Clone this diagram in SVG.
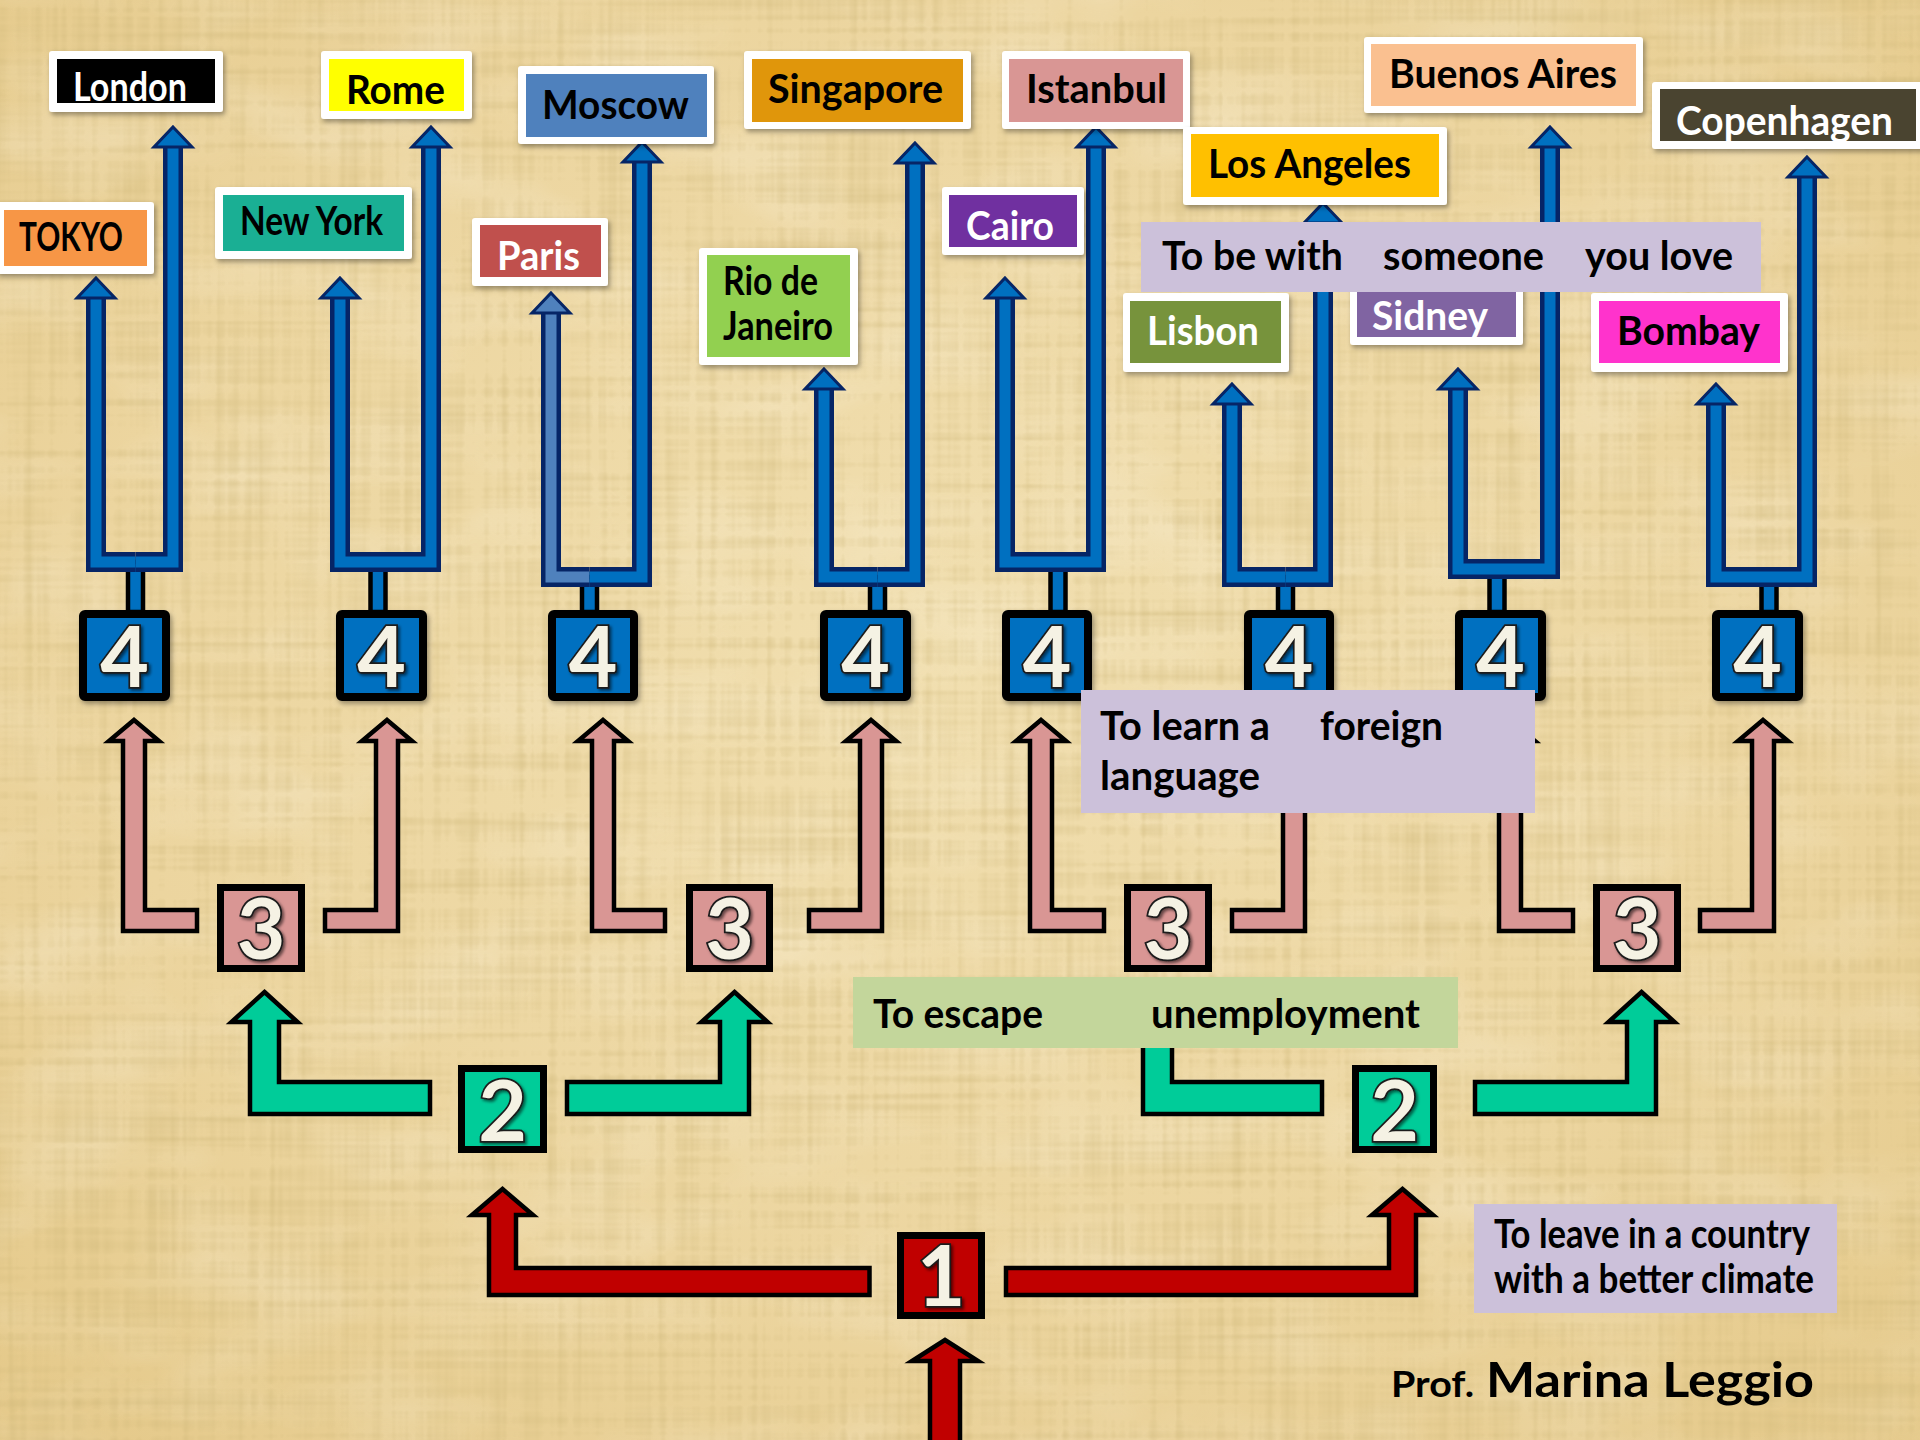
<svg xmlns="http://www.w3.org/2000/svg" width="1920" height="1440" viewBox="0 0 1920 1440">
<defs>
<radialGradient id="bgGrad" cx="0.5" cy="0.45" r="0.75">
<stop offset="0" stop-color="#f1dfb0"/>
<stop offset="0.6" stop-color="#ecd59f"/>
<stop offset="1" stop-color="#e4c888"/>
</radialGradient>
<filter id="weave" x="0" y="0" width="1920" height="1440" filterUnits="userSpaceOnUse">
<feTurbulence type="fractalNoise" baseFrequency="0.003 0.12" numOctaves="2" seed="4" result="v"/>
<feTurbulence type="fractalNoise" baseFrequency="0.12 0.003" numOctaves="2" seed="9" result="h"/>
<feComposite in="v" in2="h" operator="arithmetic" k2="0.5" k3="0.5" result="m"/>
<feColorMatrix in="m" type="matrix" values="0 0 0 0 0.6  0 0 0 0 0.46  0 0 0 0 0.18  -1.3 0 0 0 0.72"/>
</filter>
<filter id="blotch" x="0" y="0" width="1920" height="1440" filterUnits="userSpaceOnUse">
<feTurbulence type="fractalNoise" baseFrequency="0.006 0.012" numOctaves="3" seed="2"/>
<feColorMatrix type="matrix" values="0 0 0 0 1  0 0 0 0 0.97  0 0 0 0 0.88  1.2 0 0 0 -0.5"/>
</filter>
<filter id="sh" x="-20%" y="-20%" width="150%" height="150%">
<feDropShadow dx="2" dy="3" stdDeviation="2.5" flood-color="#000" flood-opacity="0.35"/>
</filter>
<filter id="dsh" x="-20%" y="-20%" width="150%" height="150%">
<feDropShadow dx="2" dy="2" stdDeviation="1.5" flood-color="#000" flood-opacity="0.55"/>
</filter>
</defs>
<style>
.bo{fill:none;stroke:#062566;stroke-width:20;stroke-linejoin:miter}
.bi{fill:none;stroke:#0070c0;stroke-width:11;stroke-linejoin:miter}
.bil{stroke:#4f81bd}
.bh{fill:#0070c0;stroke:#062566;stroke-width:3;stroke-linejoin:miter}
.stem{fill:#0070c0;stroke:#000;stroke-width:4.5}
.pk{fill:#d99694;stroke:#000;stroke-width:4.5;stroke-linejoin:miter}
.gr{fill:#00cc99;stroke:#000;stroke-width:4.5;stroke-linejoin:miter}
.rd{fill:#c00000;stroke:#000;stroke-width:4.5;stroke-linejoin:miter}
.b4{fill:#0070c0;stroke:#000;stroke-width:8}
.b3{fill:#d99694;stroke:#000;stroke-width:7}
.b2{fill:#00cc99;stroke:#000;stroke-width:7}
.b1{fill:#c00000;stroke:#000;stroke-width:7}
.num{font-family:Lato,"Open Sans",sans-serif;font-weight:bold;font-size:84px;fill:#f5f2e4;stroke:#1a1a1a;stroke-width:3.5;paint-order:stroke;text-anchor:middle}
.wb{fill:#fff}
.lbl{font-family:Lato,"Liberation Sans",sans-serif;font-weight:bold;font-size:40px}
.w{fill:#fff}
.k{fill:#000}
.rs{font-family:Lato,"Liberation Sans",sans-serif;font-weight:bold;font-size:40px;fill:#000}
</style>

<g id="background">
<rect width="1920" height="1440" fill="url(#bgGrad)"/>
<rect width="1920" height="1440" filter="url(#blotch)" opacity="0.4"/>
<rect width="1920" height="1440" filter="url(#weave)"/>
</g>

<g id="connectors">
<rect class="stem" x="128" y="562" width="15" height="50"/>
<rect class="stem" x="370.5" y="562" width="15" height="50"/>
<rect class="stem" x="582" y="577" width="15" height="35"/>
<rect class="stem" x="870" y="577" width="15" height="35"/>
<rect class="stem" x="1050.5" y="562" width="15" height="50"/>
<rect class="stem" x="1278" y="577" width="15" height="35"/>
<rect class="stem" x="1489.5" y="569" width="15" height="43"/>
<rect class="stem" x="1761.5" y="577" width="15" height="35"/>

<path class="bo" d="M96,297 V562 H135.5"/><path class="bi" d="M96,297 V562 H135.5"/>
<path class="bo" d="M135.5,562 H173 V146"/><path class="bi" d="M135.5,562 H173 V146"/>
<polygon class="bh" points="96,278 115,298 77,298"/>
<polygon class="bh" points="173,127 192,147 154,147"/>

<path class="bo" d="M340,297 V562 H378"/><path class="bi" d="M340,297 V562 H378"/>
<path class="bo" d="M378,562 H431 V146"/><path class="bi" d="M378,562 H431 V146"/>
<polygon class="bh" points="340,278 359,298 321,298"/>
<polygon class="bh" points="431,127 450,147 412,147"/>

<path class="bo" d="M551,312 V577 H589.5"/><path class="bi bil" d="M551,312 V577 H589.5"/>
<path class="bo" d="M589.5,577 H642 V161"/><path class="bi" d="M589.5,577 H642 V161"/>
<polygon class="bh" style="fill:#4f81bd" points="551,293 570,313 532,313"/>
<polygon class="bh" points="642,142 661,162 623,162"/>

<path class="bo" d="M824,388 V577 H877.5"/><path class="bi" d="M824,388 V577 H877.5"/>
<path class="bo" d="M877.5,577 H915 V162"/><path class="bi" d="M877.5,577 H915 V162"/>
<polygon class="bh" points="824,369 843,389 805,389"/>
<polygon class="bh" points="915,143 934,163 896,163"/>

<path class="bo" d="M1005,297 V562 H1058"/><path class="bi" d="M1005,297 V562 H1058"/>
<path class="bo" d="M1058,562 H1096 V146"/><path class="bi" d="M1058,562 H1096 V146"/>
<polygon class="bh" points="1005,278 1024,298 986,298"/>
<polygon class="bh" points="1096,127 1115,147 1077,147"/>

<path class="bo" d="M1232,403 V577 H1285.5"/><path class="bi" d="M1232,403 V577 H1285.5"/>
<path class="bo" d="M1285.5,577 H1323 V222"/><path class="bi" d="M1285.5,577 H1323 V222"/>
<polygon class="bh" points="1232,384 1251,404 1213,404"/>
<polygon class="bh" points="1323,203 1342,223 1304,223"/>

<path class="bo" d="M1458,388 V569 H1497"/><path class="bi" d="M1458,388 V569 H1497"/>
<path class="bo" d="M1497,569 H1550 V146"/><path class="bi" d="M1497,569 H1550 V146"/>
<polygon class="bh" points="1458,369 1477,389 1439,389"/>
<polygon class="bh" points="1550,127 1569,147 1531,147"/>

<path class="bo" d="M1716,403 V577 H1769"/><path class="bi" d="M1716,403 V577 H1769"/>
<path class="bo" d="M1769,577 H1807 V176"/><path class="bi" d="M1769,577 H1807 V176"/>
<polygon class="bh" points="1716,384 1735,404 1697,404"/>
<polygon class="bh" points="1807,157 1826,177 1788,177"/>

<polygon class="pk" points="134,720 159,741 145,741 145,910 197,910 197,931 123,931 123,741 109,741"/>
<polygon class="pk" points="387,720 412,741 398,741 398,931 325,931 325,910 376,910 376,741 362,741"/>
<polygon class="pk" points="603,720 628,741 614,741 614,910 665,910 665,931 592,931 592,741 578,741"/>
<polygon class="pk" points="871,720 896,741 882,741 882,931 809,931 809,910 860,910 860,741 846,741"/>
<polygon class="pk" points="1041,720 1066,741 1052,741 1052,910 1104,910 1104,931 1030,931 1030,741 1016,741"/>
<polygon class="pk" points="1294,720 1319,741 1305,741 1305,931 1232,931 1232,910 1283,910 1283,741 1269,741"/>
<polygon class="pk" points="1510,720 1535,741 1521,741 1521,910 1573,910 1573,931 1499,931 1499,741 1485,741"/>
<polygon class="pk" points="1763,720 1788,741 1774,741 1774,931 1700,931 1700,910 1752,910 1752,741 1738,741"/>

<polygon class="gr" points="264.5,992 297.5,1022 279,1022 279,1082 430,1082 430,1114 250,1114 250,1022 231.5,1022"/>
<polygon class="gr" points="734.5,992 767.5,1022 749,1022 749,1114 567,1114 567,1082 720,1082 720,1022 701.5,1022"/>
<polygon class="gr" points="1157.5,992 1190.5,1022 1172,1022 1172,1082 1322,1082 1322,1114 1143,1114 1143,1022 1124.5,1022"/>
<polygon class="gr" points="1641.5,992 1674.5,1022 1656,1022 1656,1114 1475,1114 1475,1082 1627,1082 1627,1022 1608.5,1022"/>

<polygon class="rd" points="502.5,1189 533,1215 516,1215 516,1268 869.5,1268 869.5,1295 489,1295 489,1215 472,1215"/>
<polygon class="rd" points="1402.5,1189 1433,1215 1416,1215 1416,1295 1006,1295 1006,1268 1389,1268 1389,1215 1372,1215"/>
<polygon class="rd" points="945,1340 978,1361 960,1361 960,1445 930,1445 930,1361 912,1361"/>
</g>

<g id="n4-1" filter="url(#sh)"><rect class="b4" x="83" y="614" width="83" height="83" rx="2"/><text class="num" x="124.5" y="687" filter="url(#dsh)">4</text></g>
<g id="n4-2" filter="url(#sh)"><rect class="b4" x="340" y="614" width="83" height="83" rx="2"/><text class="num" x="381.5" y="687" filter="url(#dsh)">4</text></g>
<g id="n4-3" filter="url(#sh)"><rect class="b4" x="552" y="614" width="82" height="83" rx="2"/><text class="num" x="593" y="687" filter="url(#dsh)">4</text></g>
<g id="n4-4" filter="url(#sh)"><rect class="b4" x="824" y="614" width="83" height="83" rx="2"/><text class="num" x="865.5" y="687" filter="url(#dsh)">4</text></g>
<g id="n4-5" filter="url(#sh)"><rect class="b4" x="1006" y="614" width="82" height="83" rx="2"/><text class="num" x="1047" y="687" filter="url(#dsh)">4</text></g>
<g id="n4-6" filter="url(#sh)"><rect class="b4" x="1248" y="614" width="82" height="83" rx="2"/><text class="num" x="1289" y="687" filter="url(#dsh)">4</text></g>
<g id="n4-7" filter="url(#sh)"><rect class="b4" x="1459" y="614" width="83" height="83" rx="2"/><text class="num" x="1500.5" y="687" filter="url(#dsh)">4</text></g>
<g id="n4-8" filter="url(#sh)"><rect class="b4" x="1716" y="614" width="83" height="83" rx="2"/><text class="num" x="1757.5" y="687" filter="url(#dsh)">4</text></g>

<g id="n3-1"><rect class="b3" x="220.5" y="887.5" width="81" height="81"/><text class="num" x="261" y="959" filter="url(#dsh)">3</text></g>
<g id="n3-2"><rect class="b3" x="689.5" y="887.5" width="80" height="81"/><text class="num" x="729.5" y="959" filter="url(#dsh)">3</text></g>
<g id="n3-3"><rect class="b3" x="1127.5" y="887.5" width="81" height="81"/><text class="num" x="1168" y="959" filter="url(#dsh)">3</text></g>
<g id="n3-4"><rect class="b3" x="1596.5" y="887.5" width="81" height="81"/><text class="num" x="1637" y="959" filter="url(#dsh)">3</text></g>

<g id="n2-1"><rect class="b2" x="461.5" y="1068.5" width="82" height="81"/><text class="num" x="502.5" y="1141" filter="url(#dsh)">2</text></g>
<g id="n2-2"><rect class="b2" x="1355.5" y="1068.5" width="78" height="81"/><text class="num" x="1394.5" y="1141" filter="url(#dsh)">2</text></g>

<g id="n1"><rect class="b1" x="900.5" y="1235.5" width="81" height="80"/><text class="num" x="941" y="1306" filter="url(#dsh)">1</text></g>

<g id="c-london"><rect class="wb" filter="url(#sh)" x="49" y="51" width="174" height="61" rx="3"/><rect x="57" y="59" width="158" height="44" fill="#000"/><text class="lbl w" x="73" y="101" font-size="38" textLength="114" lengthAdjust="spacingAndGlyphs">London</text></g>
<g id="c-rome"><rect class="wb" filter="url(#sh)" x="321" y="51" width="151" height="68" rx="3"/><rect x="329" y="59" width="135" height="52" fill="#ffff00"/><text class="lbl k" x="346" y="104" textLength="99" lengthAdjust="spacingAndGlyphs">Rome</text></g>
<g id="c-tokyo"><rect class="wb" filter="url(#sh)" x="-4" y="202" width="158" height="72" rx="3"/><rect x="4" y="210" width="143" height="56" fill="#f79646"/><text class="lbl k" x="19" y="251" font-size="36" textLength="104" lengthAdjust="spacingAndGlyphs">TOKYO</text></g>
<g id="c-newyork"><rect class="wb" filter="url(#sh)" x="215" y="187" width="197" height="72" rx="3"/><rect x="223" y="195" width="181" height="56" fill="#1aaf94"/><text class="lbl k" x="240" y="235" font-size="36" textLength="143" lengthAdjust="spacingAndGlyphs">New York</text></g>
<g id="c-moscow"><rect class="wb" filter="url(#sh)" x="518" y="66" width="196" height="78" rx="3"/><rect x="526" y="74" width="181" height="63" fill="#4f81bd"/><text class="lbl k" x="542" y="119" textLength="147" lengthAdjust="spacingAndGlyphs">Moscow</text></g>
<g id="c-paris"><rect class="wb" filter="url(#sh)" x="472" y="218" width="136" height="68" rx="3"/><rect x="480" y="225" width="121" height="52" fill="#c0504d"/><text class="lbl w" x="497" y="270" textLength="83" lengthAdjust="spacingAndGlyphs">Paris</text></g>
<g id="c-singapore"><rect class="wb" filter="url(#sh)" x="744" y="51" width="227" height="78" rx="3"/><rect x="752" y="59" width="211" height="63" fill="#e0960b"/><text class="lbl k" x="768" y="103" textLength="175" lengthAdjust="spacingAndGlyphs">Singapore</text></g>
<g id="c-rio"><rect class="wb" filter="url(#sh)" x="699" y="248" width="159" height="117" rx="3"/><rect x="707" y="255" width="143" height="102" fill="#92d050"/><text class="lbl k" x="723" y="295" font-size="36" textLength="95" lengthAdjust="spacingAndGlyphs">Rio de</text><text class="lbl k" x="723" y="340" font-size="36" textLength="110" lengthAdjust="spacingAndGlyphs">Janeiro</text></g>
<g id="c-istanbul"><rect class="wb" filter="url(#sh)" x="1002" y="51" width="188" height="78" rx="3"/><rect x="1009" y="59" width="174" height="63" fill="#d99694"/><text class="lbl k" x="1026" y="103" textLength="141" lengthAdjust="spacingAndGlyphs">Istanbul</text></g>
<g id="c-cairo"><rect class="wb" filter="url(#sh)" x="942" y="187" width="142" height="68" rx="3"/><rect x="949" y="195" width="128" height="52" fill="#7030a0"/><text class="lbl w" x="966" y="240" textLength="88" lengthAdjust="spacingAndGlyphs">Cairo</text></g>
<g id="c-losangeles"><rect class="wb" filter="url(#sh)" x="1183" y="127" width="264" height="78" rx="3"/><rect x="1191" y="134" width="248" height="63" fill="#ffc000"/><text class="lbl k" x="1208" y="178" textLength="203" lengthAdjust="spacingAndGlyphs">Los Angeles</text></g>
<g id="c-buenosaires"><rect class="wb" filter="url(#sh)" x="1364" y="37" width="279" height="76" rx="3"/><rect x="1371" y="44" width="265" height="62" fill="#fac090"/><text class="lbl k" x="1389" y="88" textLength="228" lengthAdjust="spacingAndGlyphs">Buenos Aires</text></g>
<g id="c-copenhagen"><rect class="wb" filter="url(#sh)" x="1652" y="82" width="272" height="67" rx="3"/><rect x="1660" y="89" width="256" height="52" fill="#4a4430"/><text class="lbl w" x="1676" y="135" textLength="217" lengthAdjust="spacingAndGlyphs">Copenhagen</text></g>
<g id="c-lisbon"><rect class="wb" filter="url(#sh)" x="1123" y="293" width="166" height="79" rx="3"/><rect x="1130" y="301" width="151" height="62" fill="#77933c"/><text class="lbl w" x="1147" y="345" textLength="112" lengthAdjust="spacingAndGlyphs">Lisbon</text></g>
<g id="c-sidney"><rect class="wb" filter="url(#sh)" x="1350" y="262" width="173" height="83" rx="3"/><rect x="1357" y="270" width="159" height="67" fill="#8064a2"/><text class="lbl w" x="1372" y="330" textLength="116" lengthAdjust="spacingAndGlyphs">Sidney</text></g>
<g id="c-bombay"><rect class="wb" filter="url(#sh)" x="1591" y="293" width="197" height="79" rx="3"/><rect x="1599" y="301" width="181" height="62" fill="#ff33cc"/><text class="lbl k" x="1617" y="345" textLength="143" lengthAdjust="spacingAndGlyphs">Bombay</text></g>

<g id="r-love"><rect x="1141" y="222" width="620" height="70" fill="#ccc1da"/>
<text class="rs" x="1162" y="270" textLength="181" lengthAdjust="spacingAndGlyphs">To be with</text>
<text class="rs" x="1383" y="270" textLength="161" lengthAdjust="spacingAndGlyphs">someone</text>
<text class="rs" x="1585" y="270" textLength="148" lengthAdjust="spacingAndGlyphs">you love</text></g>
<g id="r-language"><rect x="1081" y="690" width="454" height="123" fill="#ccc1da"/>
<text class="rs" x="1100" y="740" textLength="170" lengthAdjust="spacingAndGlyphs">To learn a</text>
<text class="rs" x="1320" y="740" textLength="123" lengthAdjust="spacingAndGlyphs">foreign</text>
<text class="rs" x="1100" y="790" textLength="160" lengthAdjust="spacingAndGlyphs">language</text></g>
<g id="r-unemployment"><rect x="853" y="977" width="605" height="71" fill="#c3d69b"/>
<text class="rs" x="873" y="1028" textLength="170" lengthAdjust="spacingAndGlyphs">To escape</text>
<text class="rs" x="1151" y="1028" textLength="269" lengthAdjust="spacingAndGlyphs">unemployment</text></g>
<g id="r-climate"><rect x="1474" y="1204" width="363" height="109" fill="#ccc1da"/>
<text class="rs" x="1494" y="1248" font-size="35" textLength="316" lengthAdjust="spacingAndGlyphs">To leave in a country</text>
<text class="rs" x="1494" y="1293" font-size="35" textLength="320" lengthAdjust="spacingAndGlyphs">with a better climate</text></g>

<g id="author">
<text x="1391" y="1397" font-family="Lato, 'Liberation Sans', sans-serif" font-weight="bold" font-size="36" fill="#000" textLength="83" lengthAdjust="spacingAndGlyphs">Prof.</text>
<text x="1486" y="1397" font-family="Lato, 'Liberation Sans', sans-serif" font-weight="bold" font-size="48" fill="#000" textLength="328" lengthAdjust="spacingAndGlyphs">Marina Leggio</text>
</g>
</svg>
